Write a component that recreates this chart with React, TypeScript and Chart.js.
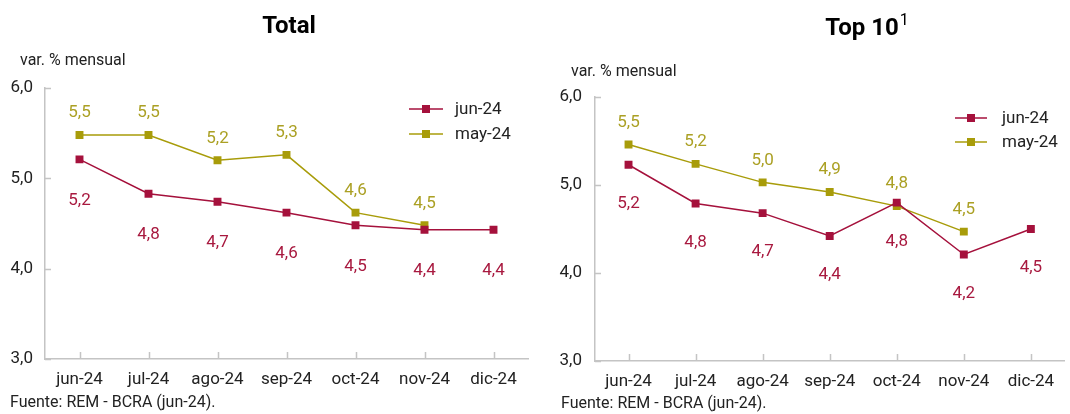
import React, { useEffect, useRef } from 'react';
import { Chart, registerables } from 'chart.js';

Chart.register(...registerables);

// ---------- data ----------
const categories = ['jun-24', 'jul-24', 'ago-24', 'sep-24', 'oct-24', 'nov-24', 'dic-24'];
const seriesNames = ['jun-24', 'may-24'];
const yTickValues = [3, 4, 5, 6];

const totalJun = [5.21, 4.83, 4.74, 4.62, 4.48, 4.43, 4.43];
const totalMay = [5.48, 5.48, 5.2, 5.26, 4.62, 4.48, null];

const top10Jun = [5.23, 4.79, 4.68, 4.42, 4.8, 4.21, 4.5];
const top10May = [5.46, 5.24, 5.03, 4.92, 4.76, 4.47, null];

const unitLabel = 'var. % mensual';
const sourceLabel = 'Fuente: REM - BCRA (jun-24).';

// ---------- styles ----------
const RED = '#A5113C';
const OLIVE = '#A89C0A';
const RED_TXT = '#A8193F';
const OLIVE_TXT = '#ABA024';
const AXIS = '#C4C4C4';
const TXT = '#222222';
const FONT = 'Roboto';

const fmt = (v: number) => v.toFixed(1).replace('.', ',');

type PanelCfg = {
  jun: (number | null)[];
  may: (number | null)[];
  width: number;
  padding: { left: number; top: number; right: number; bottom: number };
  yAxisW: number;
  yLabelPad: number;
  legend: { x0: number; x1: number; textX: number; y0: number; y1: number };
  junOffset: number;
  mayOffset: number;
};

function Panel({ cfg, left }: { cfg: PanelCfg; left: number }) {
  const ref = useRef<HTMLCanvasElement>(null);
  useEffect(() => {
    const helper = {
      id: 'helper',
      afterDraw(chart: any) {
        const ctx = chart.ctx;
        const area = chart.chartArea;
        const xs = chart.scales.x;
        const ys = chart.scales.y;
        ctx.save();
        // inside tick marks
        ctx.strokeStyle = AXIS;
        ctx.lineWidth = 1.5;
        ctx.beginPath();
        yTickValues.forEach((v) => {
          const y = Math.round(ys.getPixelForValue(v)) + 0.5;
          ctx.moveTo(area.left, y);
          ctx.lineTo(area.left + 6, y);
        });
        categories.forEach((_, i) => {
          const x = Math.round(xs.getPixelForValue(i)) + 0.5;
          ctx.moveTo(x, area.bottom);
          ctx.lineTo(x, area.bottom - 7);
        });
        ctx.stroke();
        // data labels
        ctx.font = `17px ${FONT}`;
        ctx.textAlign = 'center';
        ctx.textBaseline = 'middle';
        chart.data.datasets.forEach((ds: any, di: number) => {
          const meta = chart.getDatasetMeta(di);
          ctx.fillStyle = di === 0 ? RED_TXT : OLIVE_TXT;
          const off = di === 0 ? cfg.junOffset : cfg.mayOffset;
          meta.data.forEach((pt: any, j: number) => {
            const v = ds.data[j];
            if (v === null || v === undefined) return;
            ctx.fillText(fmt(v), pt.x, pt.y + off);
          });
        });
        // legend
        const L = cfg.legend;
        [RED, OLIVE].forEach((c, i) => {
          const y = i === 0 ? L.y0 : L.y1;
          ctx.strokeStyle = c;
          ctx.lineWidth = 1.5;
          ctx.beginPath();
          ctx.moveTo(L.x0, y);
          ctx.lineTo(L.x1, y);
          ctx.stroke();
          ctx.fillStyle = c;
          const m = (L.x0 + L.x1) / 2;
          ctx.fillRect(m - 4, y - 4, 8, 8);
          ctx.fillStyle = TXT;
          ctx.textAlign = 'left';
          ctx.fillText(seriesNames[i], L.textX, y + 1);
        });
        ctx.restore();
      },
    };

    const mkDs = (label: string, data: any, color: string) => ({
      label,
      data,
      borderColor: color,
      backgroundColor: color,
      borderWidth: 1.5,
      pointStyle: 'rect',
      pointRadius: 5.6,
      pointBorderWidth: 0,
      pointBackgroundColor: color,
      tension: 0,
    });

    const chart = new Chart(ref.current as HTMLCanvasElement, {
      type: 'line',
      data: {
        labels: categories,
        datasets: [mkDs(seriesNames[0], cfg.jun, RED), mkDs(seriesNames[1], cfg.may, OLIVE)],
      },
      options: {
        responsive: false,
        animation: false,
        devicePixelRatio: 1,
        layout: { padding: cfg.padding },
        plugins: {
          legend: { display: false },
          tooltip: { enabled: false },
          title: { display: false },
        },
        scales: {
          x: {
            type: 'category',
            offset: true,
            grid: { display: false, drawTicks: false },
            border: { display: true, color: AXIS, width: 1.5 },
            ticks: {
              color: TXT,
              font: { family: FONT, size: 17 },
              padding: 11,
              maxRotation: 0,
              autoSkip: false,
            },
            afterFit: (s: any) => {
              s.height = 30;
            },
          },
          y: {
            min: 3,
            max: 6,
            grid: { display: false, drawTicks: false },
            border: { display: true, color: AXIS, width: 1.5 },
            ticks: {
              stepSize: 1,
              color: TXT,
              font: { family: FONT, size: 17 },
              padding: cfg.yLabelPad,
              callback: (v: any) => fmt(Number(v)),
            },
            afterFit: (s: any) => {
              s.width = cfg.yAxisW;
            },
          },
        },
      } as any,
      plugins: [helper],
    });
    return () => chart.destroy();
  }, []);
  return (
    <canvas
      ref={ref}
      width={cfg.width}
      height={414}
      style={{ position: 'absolute', left, top: 0, width: cfg.width, height: 414 }}
    />
  );
}

const leftCfg: PanelCfg = {
  jun: totalJun,
  may: totalMay,
  width: 540,
  padding: { left: 0, top: 88, right: 12, bottom: 25 },
  yAxisW: 45,
  yLabelPad: 12,
  legend: { x0: 409, x1: 443, textX: 455, y0: 109, y1: 134 },
  junOffset: 41,
  mayOffset: -22,
};

const rightCfg: PanelCfg = {
  jun: top10Jun,
  may: top10May,
  width: 530,
  padding: { left: 0, top: 97, right: 0, bottom: 23 },
  yAxisW: 55,
  yLabelPad: 13,
  legend: { x0: 415, x1: 447, textX: 462, y0: 118, y1: 142 },
  junOffset: 39,
  mayOffset: -22,
};

const textStyle: React.CSSProperties = {
  position: 'absolute',
  fontFamily: FONT,
  color: TXT,
  whiteSpace: 'nowrap',
  lineHeight: 1,
};

export default function App() {
  return (
    <div
      style={{
        position: 'fixed',
        left: 0,
        top: 0,
        width: 1070,
        height: 414,
        background: '#ffffff',
        overflow: 'hidden',
      }}
    >
      <Panel cfg={leftCfg} left={0} />
      <Panel cfg={rightCfg} left={540} />
      <div style={{ ...textStyle, left: 189, width: 200, textAlign: 'center', top: 13, fontSize: 24, fontWeight: 700, color: '#000' }}>
        Total
      </div>
      <div style={{ ...textStyle, left: 767, width: 200, textAlign: 'center', top: 15, fontSize: 24, fontWeight: 700, color: '#000' }}>
        Top 10
        <span style={{ fontSize: 16, fontWeight: 400, position: 'relative', top: -10, marginLeft: 1 }}>1</span>
      </div>
      <div style={{ ...textStyle, left: 20, top: 52, fontSize: 16 }}>{unitLabel}</div>
      <div style={{ ...textStyle, left: 571, top: 63, fontSize: 16 }}>{unitLabel}</div>
      <div style={{ ...textStyle, left: 10, top: 394, fontSize: 16 }}>{sourceLabel}</div>
      <div style={{ ...textStyle, left: 561, top: 395, fontSize: 16 }}>{sourceLabel}</div>
    </div>
  );
}
